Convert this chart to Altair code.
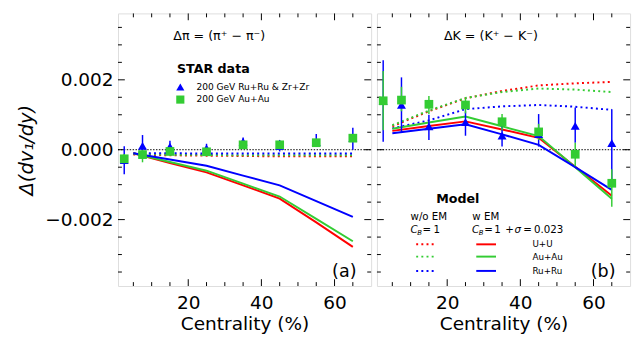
import altair as alt
import pandas as pd

# ---------------- data ----------------
cent_data = [2.5, 7.5, 15, 25, 35, 45, 55, 65]

# pion STAR data
pi_ru = [-0.0003, 0.00011, 0.00009, 0.00004, 0.00023, 0.0001, 0.00022, 0.00033]
pi_ru_lo = [-0.0007, -0.0002, -0.00008, -0.0001, 0.0001, -0.00005, 0.0001, 0.0]
pi_ru_hi = [0.0001, 0.00042, 0.00026, 0.00017, 0.00035, 0.00028, 0.00045, 0.00063]
pi_au = [-0.00026, -0.00014, -0.00005, -0.00006, 0.00014, 0.00014, 0.0002, 0.00033]
pi_au_lo = [-0.0004, -0.00036, -0.00012, -0.00013, 0.00008, 0.00007, 0.00014, 0.00024]
pi_au_hi = [-0.00012, 0.0, 0.00002, 0.0, 0.0002, 0.00021, 0.00026, 0.00042]

# kaon STAR data
k_ru = [0.0014, 0.00128, 0.00067, 0.00079, 0.0004, 0.00045, 0.00068, 0.00019]
k_ru_lo = [0.00023, 0.00051, 0.00028, 0.0004, 0.00009, 0.00009, 0.0002, -0.00098]
k_ru_hi = [0.00256, 0.00207, 0.001, 0.0011, 0.00068, 0.00102, 0.00121, 0.00116]
k_au = [0.0014, 0.00142, 0.0013, 0.00128, 0.0008, 0.00051, -0.00013, -0.00096]
k_au_lo = [0.00056, 0.0011, 0.00102, 0.00104, 0.00056, 0.00028, -0.00047, -0.00163]
k_au_hi = [0.00225, 0.0018, 0.00154, 0.00146, 0.00102, 0.00074, 0.0002, -0.00056]

# model curves
model_cent = [5, 15, 25, 35, 45, 55, 65]
pi_uu_noem = [-0.00014, -0.00016, -0.00017, -0.00018, -0.00019, -0.00019, -0.00019]
pi_au_noem = [-0.00012, -0.00014, -0.00015, -0.00016, -0.00016, -0.00016, -0.00016]
pi_ru_noem = [-0.0001, -0.0001, -0.00011, -0.00011, -0.00011, -0.00011, -0.00011]
pi_uu_em = [-0.0001, -0.00038, -0.00065, -0.00102, -0.0014, -0.00208, -0.00278]
pi_au_em = [-0.0001, -0.00035, -0.0006, -0.00097, -0.00134, -0.00198, -0.00262]
pi_ru_em = [-0.0001, -0.00028, -0.00046, -0.00074, -0.00102, -0.00147, -0.00192]

k_uu_noem = [0.00067, 0.0011, 0.00147, 0.00168, 0.00184, 0.0019, 0.00194]
k_au_noem = [0.0007, 0.00112, 0.00148, 0.00165, 0.00175, 0.00172, 0.00165]
k_ru_noem = [0.00061, 0.00084, 0.00116, 0.00124, 0.00128, 0.00123, 0.00114]
k_uu_em = [0.00054, 0.00068, 0.00081, 0.00058, 0.00034, -0.00049, -0.00132]
k_au_em = [0.0006, 0.00078, 0.00095, 0.00067, 0.00039, -0.0005, -0.0014]
k_ru_em = [0.00047, 0.0006, 0.00073, 0.00044, 0.00014, -0.0005, -0.00115]

systems = ["U+U", "Au+Au", "Ru+Ru"]
x_minor = [5, 10, 15, 25, 30, 35, 45, 50, 55, 65]
x_major = [20, 40, 60]
y_minor = [-0.0035, -0.003, -0.0025, -0.0015, -0.001, -0.0005,
           0.0005, 0.001, 0.0015, 0.0025, 0.003, 0.0035]
y_major = [-0.002, 0.0, 0.002]

# ---------------- style ----------------
FONT = "DejaVu Sans"
BLUE, GREEN, RED = "#0000ff", "#33cc33", "#ff0000"
W, H = 260, 280
X_DOMAIN = [0.8, 70]
Y_DOMAIN = [-0.0039, 0.0039]
xs = alt.Scale(domain=X_DOMAIN, nice=False, zero=False)
ys = alt.Scale(domain=Y_DOMAIN, nice=False, zero=False)
one = pd.DataFrame({"k": [0]})

xaxis = alt.Axis(values=x_major, ticks=False, domain=False, grid=False,
                 labelFontSize=19, labelPadding=8, labelFont=FONT,
                 title="Centrality (%)", titleFontSize=19, titleFont=FONT,
                 titleFontWeight="normal", titlePadding=3, titleColor="black",
                 labelColor="black")
yaxis_left = alt.Axis(values=y_major, format=".3f", ticks=False, domain=False,
                      grid=False, labelFontSize=19, labelPadding=5, labelFont=FONT,
                      title="Δ(dv₁/dy)", titleFontSize=20, titleFont=FONT,
                      titleFontStyle="italic", titleFontWeight="normal",
                      titlePadding=8, titleColor="black", labelColor="black")


def X(field):
    return alt.X(field, type="quantitative", scale=xs, axis=xaxis)


def txt(s, x, y, size, align="left", weight="normal", style="normal"):
    return alt.Chart(one).mark_text(
        text=s, align=align, baseline="middle", fontSize=size,
        fontWeight=weight, fontStyle=style, font=FONT, color="black"
    ).encode(x=alt.value(x), y=alt.value(y))


def panel(ru, ru_lo, ru_hi, au, au_lo, au_hi, noem, em, yaxis):
    def Y(field):
        return alt.Y(field, type="quantitative", scale=ys, axis=yaxis)

    layers = []
    # inward ticks
    for vals, ln in ((x_minor, 4), (x_major, 7)):
        d = pd.DataFrame({"t": vals})
        layers.append(alt.Chart(d).mark_rule(color="black", strokeWidth=1).encode(
            x=X("t"), y=alt.value(H), y2=alt.value(H - ln)))
        layers.append(alt.Chart(d).mark_rule(color="black", strokeWidth=1).encode(
            x=X("t"), y=alt.value(0), y2=alt.value(ln)))
    for vals, ln in ((y_minor, 4), (y_major, 7)):
        d = pd.DataFrame({"t": vals})
        layers.append(alt.Chart(d).mark_rule(color="black", strokeWidth=1).encode(
            y=Y("t"), x=alt.value(0), x2=alt.value(ln)))
        layers.append(alt.Chart(d).mark_rule(color="black", strokeWidth=1).encode(
            y=Y("t"), x=alt.value(W), x2=alt.value(W - ln)))
    # zero line
    z = pd.DataFrame({"c": X_DOMAIN, "v": [0.0, 0.0]})
    layers.append(alt.Chart(z).mark_line(color="black", strokeWidth=1,
                                         strokeDash=[1.5, 1.5]).encode(
        x=X("c"), y=Y("v")))
    # model lines
    colors = [RED, GREEN, BLUE]
    rows_n, rows_e = [], []
    for sys_, vn, ve in zip(systems, noem, em):
        for c, a, b in zip(model_cent, vn, ve):
            rows_n.append({"c": c, "v": a, "s": sys_})
            rows_e.append({"c": c, "v": b, "s": sys_})
    cscale = alt.Scale(domain=systems, range=colors)
    layers.append(alt.Chart(pd.DataFrame(rows_n)).mark_line(
        strokeWidth=2, strokeDash=[2, 3.3]).encode(
        x=X("c"), y=Y("v"), color=alt.Color("s:N", scale=cscale, legend=None)))
    layers.append(alt.Chart(pd.DataFrame(rows_e)).mark_line(strokeWidth=2).encode(
        x=X("c"), y=Y("v"), color=alt.Color("s:N", scale=cscale, legend=None)))
    # data points
    dru = pd.DataFrame({"c": cent_data, "v": ru, "lo": ru_lo, "hi": ru_hi})
    dau = pd.DataFrame({"c": cent_data, "v": au, "lo": au_lo, "hi": au_hi})
    layers.append(alt.Chart(dru).mark_rule(color=BLUE, strokeWidth=1.5).encode(
        x=X("c"), y=Y("lo"), y2="hi"))
    layers.append(alt.Chart(dau).mark_rule(color=GREEN, strokeWidth=1.5).encode(
        x=X("c"), y=Y("lo"), y2="hi"))
    layers.append(alt.Chart(dru).mark_point(shape="triangle-up", filled=True,
                                            size=85, color=BLUE, opacity=1).encode(
        x=X("c"), y=Y("v")))
    layers.append(alt.Chart(dau).mark_point(shape="square", filled=True,
                                            size=80, color=GREEN, opacity=1).encode(
        x=X("c"), y=Y("v")))
    return layers


left_layers = panel(pi_ru, pi_ru_lo, pi_ru_hi, pi_au, pi_au_lo, pi_au_hi,
                    [pi_uu_noem, pi_au_noem, pi_ru_noem],
                    [pi_uu_em, pi_au_em, pi_ru_em], yaxis_left)
left_layers += [
    txt("Δπ = (π⁺ − π⁻)", 104, 23.5, 13, align="center"),
    txt("STAR data", 60.5, 57.5, 13, weight="bold"),
    alt.Chart(one).mark_point(shape="triangle-up", filled=True, size=70,
                              color=BLUE, opacity=1).encode(
        x=alt.value(64), y=alt.value(75.5)),
    alt.Chart(one).mark_point(shape="square", filled=True, size=70,
                              color=GREEN, opacity=1).encode(
        x=alt.value(64), y=alt.value(88.5)),
    txt("200 GeV Ru+Ru & Zr+Zr", 80.5, 75.5, 9.3),
    txt("200 GeV Au+Au", 80.5, 88.5, 9.3),
    txt("(a)", 245, 265.5, 18, align="right"),
]
left = alt.layer(*left_layers).properties(width=W, height=H)

right_layers = panel(k_ru, k_ru_lo, k_ru_hi, k_au, k_au_lo, k_au_hi,
                     [k_uu_noem, k_au_noem, k_ru_noem],
                     [k_uu_em, k_au_em, k_ru_em], None)
leg_y = [237.2, 249.8, 264.5]
right_layers += [
    txt("ΔK = (K⁺ − K⁻)", 117, 23.5, 13, align="center"),
    txt("Model", 83, 190.5, 13, align="center", weight="bold"),
    txt("w/o EM", 34.5, 209.5, 10.5),
    txt("C", 38, 223, 10.5, align="center", style="italic"),
    txt("B", 43.7, 225.5, 7, align="center", style="italic"),
    txt("=", 51.3, 223, 10.5, align="center"),
    txt("1", 61.3, 223, 10.5, align="center"),
    txt("w EM", 98, 209.5, 10.5),
    txt("C", 101.3, 223, 10.5, align="center", style="italic"),
    txt("B", 107, 225.5, 7, align="center", style="italic"),
    txt("=", 114.7, 223, 10.5, align="center"),
    txt("1", 123.8, 223, 10.5, align="center"),
    txt("+", 136.3, 223, 10.5, align="center"),
    txt("σ", 144.7, 223, 10.5, align="center", style="italic"),
    txt("=", 154.7, 223, 10.5, align="center"),
    txt("0.023", 161.3, 223, 10.5),
    txt("(b)", 245, 265.5, 18, align="right"),
]
for yy, col, lab in zip(leg_y, [RED, GREEN, BLUE], systems):
    right_layers.append(alt.Chart(one).mark_rule(
        color=col, strokeWidth=2, strokeDash=[2, 3.3]).encode(
        x=alt.value(40.3), x2=alt.value(58.5), y=alt.value(yy)))
    right_layers.append(alt.Chart(one).mark_rule(color=col, strokeWidth=2).encode(
        x=alt.value(102), x2=alt.value(122.3), y=alt.value(yy)))
    right_layers.append(txt(lab, 159.7, yy, 9))
right = alt.layer(*right_layers).properties(width=W, height=H)

chart = alt.hconcat(left, right, spacing=0).configure_view(
    stroke="#222222", strokeWidth=1.3
).configure(font=FONT, padding={"left": 9, "top": 0, "right": 0, "bottom": 5})

chart.save("out.html", embed_options={"renderer": "svg", "actions": False})
